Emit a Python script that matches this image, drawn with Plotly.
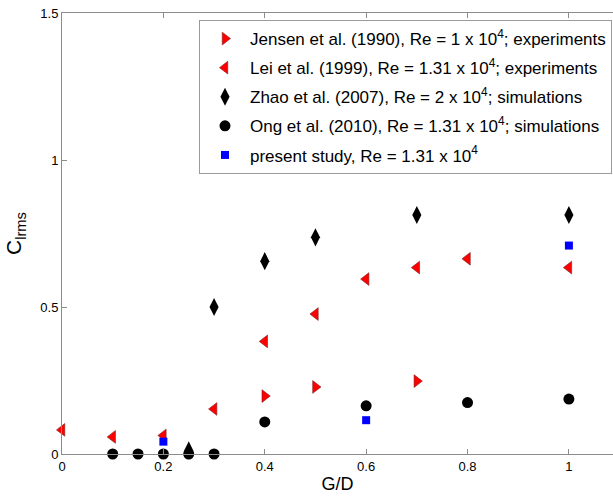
import plotly.graph_objects as go

# Gap ratio G/D and lift-coefficient RMS values for each data set
jensen_x = [0.4, 0.5, 0.7]
jensen_y = [0.197, 0.228, 0.248]

lei_x = [0.0, 0.1, 0.2, 0.3, 0.4, 0.5, 0.6, 0.7, 0.8, 1.0]
lei_y = [0.082, 0.058, 0.063, 0.153, 0.383, 0.476, 0.595, 0.634, 0.664, 0.634]

zhao_x = [0.25, 0.3, 0.4, 0.5, 0.7, 1.0]
zhao_y = [0.012, 0.500, 0.656, 0.737, 0.813, 0.813]

ong_x = [0.1, 0.15, 0.2, 0.25, 0.3, 0.4, 0.6, 0.8, 1.0]
ong_y = [0.0, 0.0, 0.0, 0.0, 0.0, 0.109, 0.164, 0.175, 0.187]

present_x = [0.2, 0.6, 1.0]
present_y = [0.042, 0.115, 0.709]

names = [
    "Jensen et al. (1990), Re = 1 x 10<sup>4</sup>; experiments",
    "Lei et al. (1999), Re = 1.31 x 10<sup>4</sup>; experiments",
    "Zhao et al. (2007), Re = 2 x 10<sup>4</sup>; simulations",
    "Ong et al. (2010), Re = 1.31 x 10<sup>4</sup>; simulations",
    "present study, Re = 1.31 x 10<sup>4</sup>",
]

x_ticks = [0, 0.2, 0.4, 0.6, 0.8, 1]
x_tick_text = ["0", "0.2", "0.4", "0.6", "0.8", "1"]
y_ticks = [0, 0.5, 1, 1.5]
y_tick_text = ["0", "0.5", "1", "1.5"]

FONT = "Liberation Sans, Arial, sans-serif"
AXIS_GREY = "#8c8c8c"

series = [
    (jensen_x, jensen_y, dict(symbol="triangle-right", size=11, color="#ff0000",
                              line=dict(color="#7a2020", width=0.6))),
    (lei_x, lei_y, dict(symbol="triangle-left", size=11, color="#ff0000",
                        line=dict(color="#7a2020", width=0.6))),
    (zhao_x, zhao_y, dict(symbol="diamond-tall", size=13, color="#000000",
                          line=dict(color="#000000", width=0))),
    (ong_x, ong_y, dict(symbol="circle", size=11, color="#000000",
                        line=dict(color="#000000", width=0))),
    (present_x, present_y, dict(symbol="square", size=8, color="#0000ff",
                                line=dict(color="#0000ff", width=0))),
]

fig = go.Figure()
for i, ((xs, ys, mk), name) in enumerate(zip(series, names)):
    fig.add_trace(go.Scatter(
        x=xs, y=ys, mode="markers", name=name, marker=mk,
        cliponaxis=False, legendgroup=f"g{i}",
    ))

fig.update_layout(
    width=613, height=496,
    margin=dict(l=62, r=0, t=13, b=42, autoexpand=False),
    paper_bgcolor="white", plot_bgcolor="white",
    font=dict(family=FONT, color="black", size=13),
    showlegend=True,
    legend=dict(
        x=(199 - 62) / 551, y=1 - (20 - 13) / 441,
        xanchor="left", yanchor="top",
        bgcolor="white", bordercolor="#9a9a9a", borderwidth=1,
        font=dict(family=FONT, size=17, color="black"),
        traceorder="grouped", tracegroupgap=4,
        itemwidth=40,
    ),
    xaxis=dict(
        range=[0, 1.087], tickvals=x_ticks, ticktext=x_tick_text,
        showgrid=False, zeroline=False,
        showline=True, linecolor=AXIS_GREY, linewidth=1, mirror="ticks",
        ticks="inside", ticklen=5, tickcolor=AXIS_GREY,
        tickfont=dict(size=13),
        title=dict(text="G/D", font=dict(size=18), standoff=4),
    ),
    yaxis=dict(
        range=[0, 1.5], tickvals=y_ticks, ticktext=y_tick_text,
        showgrid=False, zeroline=False,
        showline=True, linecolor=AXIS_GREY, linewidth=1,
        ticks="inside", ticklen=5, tickcolor=AXIS_GREY,
        tickfont=dict(size=13),
        title=dict(text="C<sub>lrms</sub>", font=dict(size=21), standoff=12),
    ),
)

fig.write_html("out.html")
